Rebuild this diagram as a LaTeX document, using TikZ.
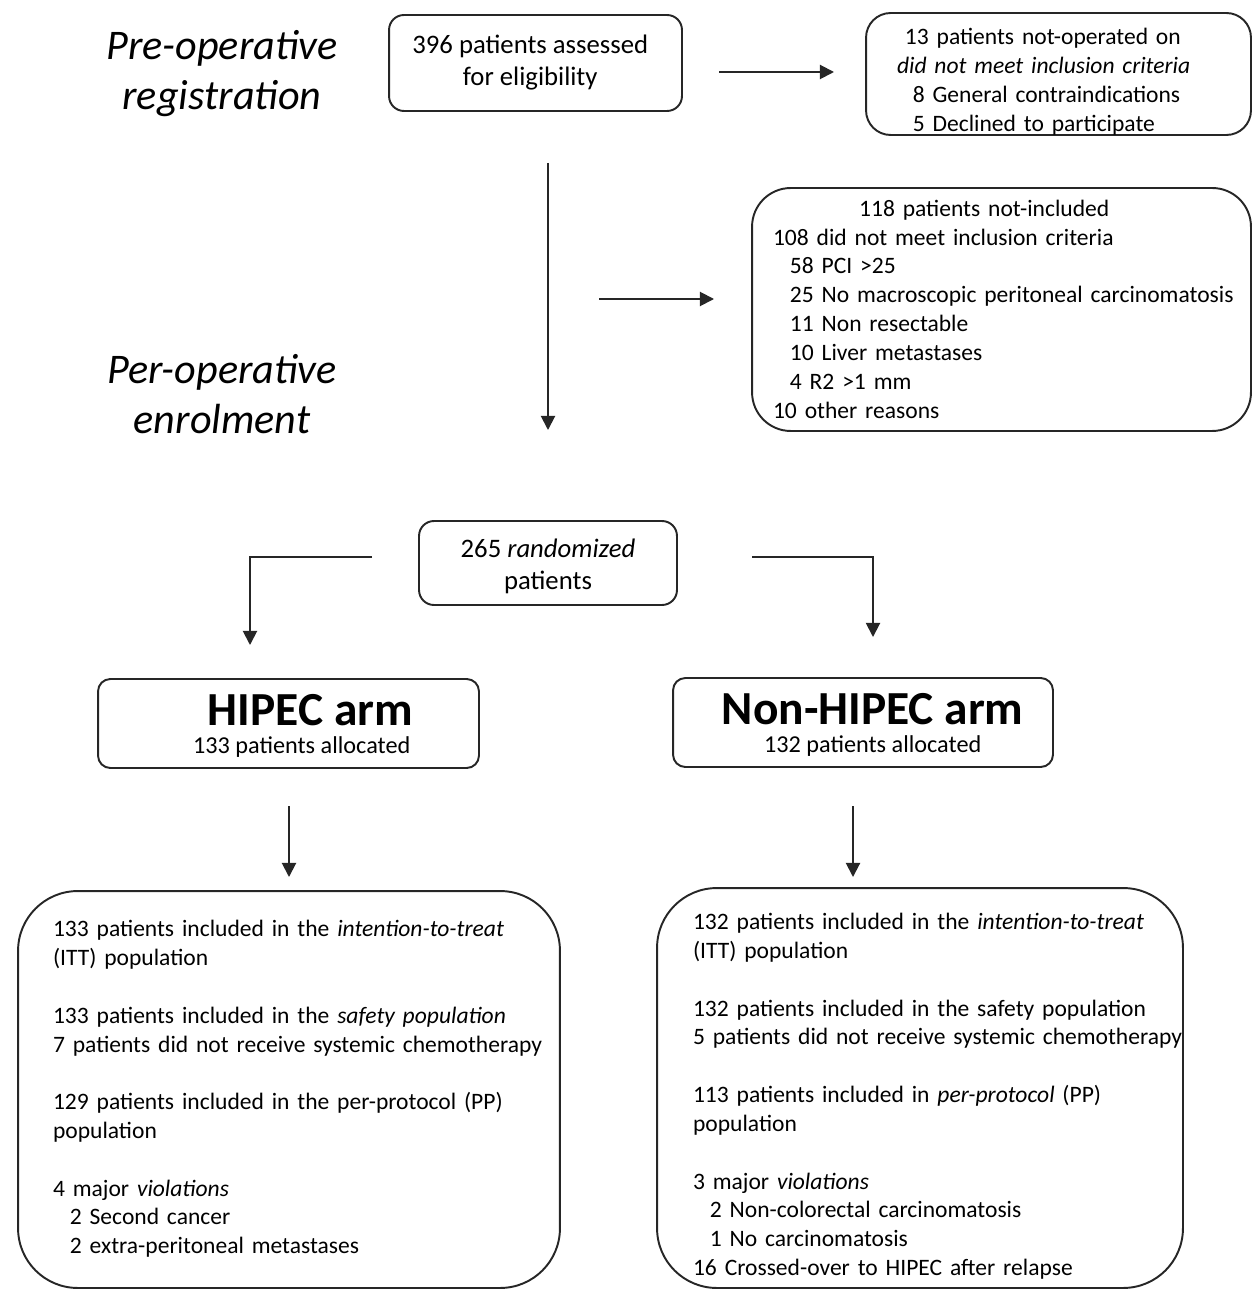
\documentclass[tikz,border=0pt]{standalone}
\usepackage{fontspec}
\setmainfont{Carlito}
\usetikzlibrary{arrows.meta}

\begin{document}
\begin{tikzpicture}[x=0.02cm, y=-0.02cm,
    box/.style={draw=black!85, line width=1.1pt, font=\fontsize{13.4}{16.4}\selectfont},
    bigtext/.style={font=\fontsize{15.2}{18.2}\selectfont},
    arr/.style={-{Triangle[length=8pt,width=8pt]}, line width=1.1pt, draw=black!85},
    side/.style={font=\fontsize{24}{28.4}\selectfont\itshape, align=center}]
\useasboundingbox (0,0) rectangle (1253,1290);

% phases
\node[side] (prereg) at (222,74) {Pre-operative\\registration};
\node[side] (perenrol) at (222,394) {Per-operative\\enrolment};

% registration
\node[box, bigtext, rounded corners=8.5pt, minimum width=5.86cm, minimum height=1.92cm, align=center]
  (assessed) at (535.5,63) {396 patients assessed\hspace*{6pt}\\for eligibility\hspace*{6pt}};
\node[box, rounded corners=14pt, minimum width=7.7cm, minimum height=2.44cm,
  text width=6.46cm, inner xsep=0.62cm, inner ysep=0pt] (notop) at (1058.5,74)
  {\raisebox{-4.8pt}[\height][\depth]{\begin{tabular}{@{}l@{}}
   \hspace*{4.5pt}13 patients not-operated on\\
   \textit{did not meet inclusion criteria}\\
   \hspace*{9pt}8 General contraindications\\
   \hspace*{9pt}5 Declined to participate
   \end{tabular}}};

% enrolment
\node[box, rounded corners=22pt, minimum width=9.98cm, minimum height=4.86cm,
  text width=9.14cm, inner xsep=0.42cm] (notincl) at (1001.5,309.5)
  {\raisebox{-1.1pt}[\height][\depth]{\begin{tabular}{@{}l@{}}
   \hspace*{49pt}118 patients not-included\\
   108 did not meet inclusion criteria\\
   \hspace*{9.6pt}58 PCI >25\\
   \hspace*{9.6pt}25 No macroscopic peritoneal carcinomatosis\\
   \hspace*{9.6pt}11 Non resectable\\
   \hspace*{9.6pt}10 Liver metastases\\
   \hspace*{9.6pt}4 R2 >1 mm\\
   10 other reasons
   \end{tabular}}};

\node[box, bigtext, rounded corners=8.5pt, minimum width=5.16cm, minimum height=1.68cm, align=center]
  (rand) at (548,563)
  {\raisebox{-1.7pt}[\height][\depth]{265 \textit{randomized}}\\
   \raisebox{-1.7pt}[\height][\depth]{patients}};

% arms
\node[box, rounded corners=7pt, minimum width=7.62cm, minimum height=1.78cm, align=center]
  (hipec) at (288.5,723.5)
  {\hspace*{25pt}\raisebox{-1.7pt}[\height][\depth]{\fontsize{27}{30}\selectfont\bfseries HIPEC arm}\\[0.4pt]
   \hspace*{15pt}\raisebox{-1.2pt}[\height][\depth]{\fontsize{13.8}{16.4}\selectfont 133 patients allocated}};
\node[box, rounded corners=7pt, minimum width=7.6cm, minimum height=1.78cm, align=center]
  (nonhipec) at (863,722.5)
  {\hspace*{11pt}\raisebox{-1.7pt}[\height][\depth]{\fontsize{27}{30}\selectfont\bfseries Non-HIPEC arm}\\[0.4pt]
   \hspace*{11pt}\raisebox{-1.2pt}[\height][\depth]{\fontsize{13.8}{16.4}\selectfont 132 patients allocated}};

% populations
\node[box, rounded corners=34pt, minimum width=10.84cm, minimum height=7.94cm,
  text width=9.44cm, inner xsep=0.7cm] (hipecpop) at (289,1089.5)
  {\begin{tabular}{@{}l@{}}
   133 patients included in the \textit{intention-to-treat}\\
   (ITT) population\\
   \\
   133 patients included in the \textit{safety population}\\
   7 patients did not receive systemic chemotherapy\\
   \\
   129 patients included in the per-protocol (PP)\\
   population\\
   \\
   4 major \textit{violations}\\
   \hspace*{9.6pt}2 Second cancer\\
   \hspace*{9.6pt}2 extra-peritoneal metastases
   \end{tabular}};
\node[box, rounded corners=34pt, minimum width=10.52cm, minimum height=8cm,
  text width=9.08cm, inner xsep=0.72cm] (nonhipecpop) at (920,1088)
  {\raisebox{-5pt}[\height][\depth]{\begin{tabular}{@{}l@{}}
   132 patients included in the \textit{intention-to-treat}\\
   (ITT) population\\
   \\
   132 patients included in the safety population\\
   5 patients did not receive systemic chemotherapy\\
   \\
   113 patients included in \textit{per-protocol} (PP)\\
   population\\
   \\
   3 major \textit{violations}\\
   \hspace*{9.6pt}2 Non-colorectal carcinomatosis\\
   \hspace*{9.6pt}1 No carcinomatosis\\
   16 Crossed-over to HIPEC after relapse
   \end{tabular}}};

% arrow ends
\coordinate (notopA) at (719,72);
\coordinate (notopB) at (834,72);
\coordinate (downA) at (548,163);
\coordinate (downB) at (548,430);
\coordinate (notinclA) at (599,299);
\coordinate (notinclB) at (714,299);
\coordinate (hipecA) at (372,557);
\coordinate (hipecB) at (250,645);
\coordinate (nonhipecA) at (752,557);
\coordinate (nonhipecB) at (873,637);
\coordinate (hipecpopA) at (289,806);
\coordinate (hipecpopB) at (289,877);
\coordinate (nonhipecpopA) at (853,806);
\coordinate (nonhipecpopB) at (853,877);

\draw[arr] (notopA) -- (notopB);
\draw[arr] (downA) -- (downB);
\draw[arr] (notinclA) -- (notinclB);
\draw[arr] (hipecA) -| (hipecB);
\draw[arr] (nonhipecA) -| (nonhipecB);
\draw[arr] (hipecpopA) -- (hipecpopB);
\draw[arr] (nonhipecpopA) -- (nonhipecpopB);
\end{tikzpicture}
\end{document}
